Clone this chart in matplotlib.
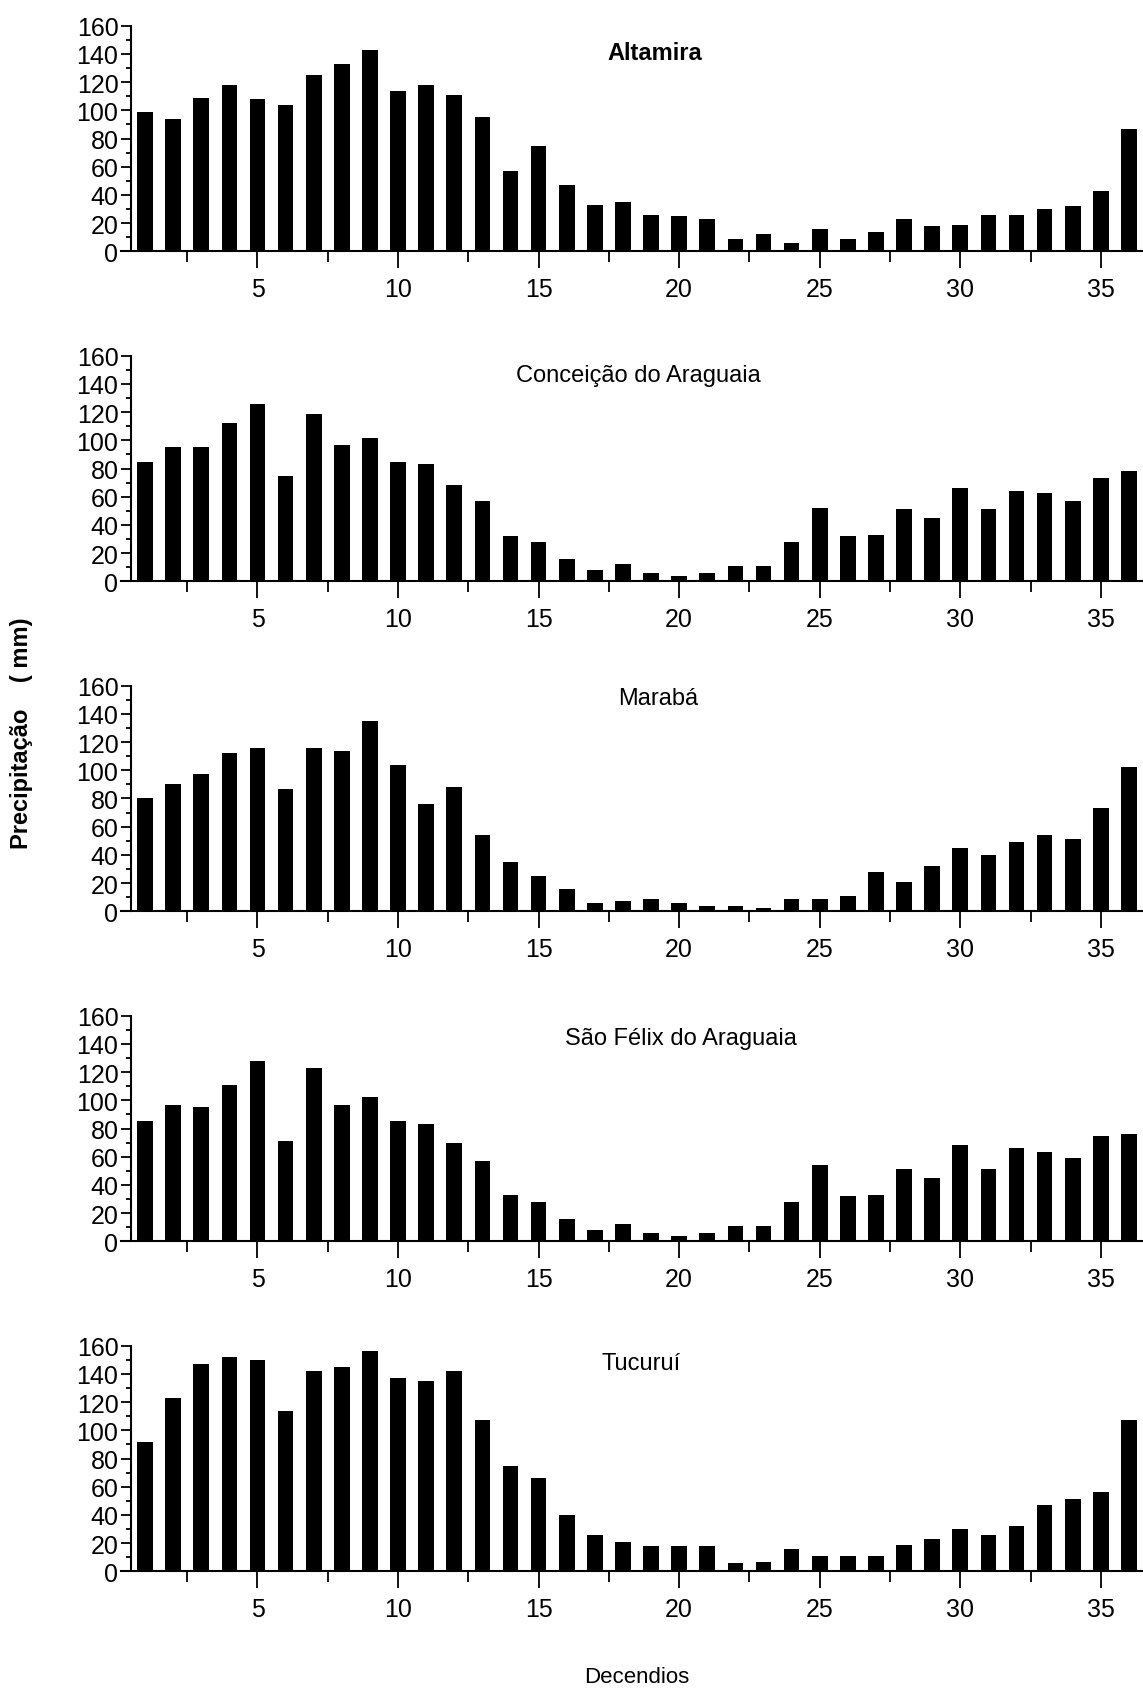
import numpy as np
import matplotlib
matplotlib.use('Agg')
import matplotlib.pyplot as plt
from matplotlib.ticker import MultipleLocator

plt.rcParams['font.family'] = ['Liberation Sans Narrow', 'Liberation Sans', 'DejaVu Sans']

# Decendios 1..36
decendios = np.arange(1, 37)

stations = ['Altamira', 'Conceição do Araguaia', 'Marabá', 'São Félix do Araguaia', 'Tucuruí']

altamira = [99, 94, 109, 118, 108, 104, 125, 133, 143, 114, 118, 111, 95, 57, 75, 47, 33, 35,
            26, 25, 23, 9, 12, 6, 16, 9, 14, 23, 18, 19, 26, 26, 30, 32, 43, 87]
conceicao = [85, 95, 95, 112, 126, 75, 119, 97, 102, 85, 83, 68, 57, 32, 28, 16, 8, 12,
             6, 4, 6, 11, 11, 28, 52, 32, 33, 51, 45, 66, 51, 64, 63, 57, 73, 78]
maraba = [80, 90, 97, 112, 116, 87, 116, 114, 135, 104, 76, 88, 54, 35, 25, 16, 6, 7,
          9, 6, 4, 4, 2, 9, 9, 11, 28, 21, 32, 45, 40, 49, 54, 51, 73, 102]
sao_felix = [85, 97, 95, 111, 128, 71, 123, 97, 102, 85, 83, 70, 57, 33, 28, 16, 8, 12,
             6, 4, 6, 11, 11, 28, 54, 32, 33, 51, 45, 68, 51, 66, 63, 59, 75, 76]
tucurui = [92, 123, 147, 152, 150, 114, 142, 145, 156, 137, 135, 142, 107, 75, 66, 40, 26, 21,
           18, 18, 18, 6, 7, 16, 11, 11, 11, 19, 23, 30, 26, 32, 47, 51, 56, 107]

series = [altamira, conceicao, maraba, sao_felix, tucurui]

fig = plt.figure(figsize=(11.43, 16.9), dpi=100)

bottoms = [0.8507, 0.6554, 0.4602, 0.2649, 0.0696]
title_pos = [(0.518, 0.852), (0.501, 0.889), (0.521, 0.919), (0.543, 0.875), (0.504, 0.897)]

for i, (name, vals) in enumerate(zip(stations, series)):
    ax = fig.add_axes([0.1146, bottoms[i], 0.8854, 0.1335])
    ax.bar(decendios, vals, width=0.56, color='black')
    ax.set_xlim(0.5, 36.5)
    ax.set_ylim(0, 160)
    ax.spines['top'].set_visible(False)
    ax.spines['right'].set_visible(False)
    ax.spines['left'].set_linewidth(1.5)
    ax.spines['bottom'].set_linewidth(1.5)
    ax.spines['bottom'].set_bounds(0.14, 36.5)
    ax.xaxis.set_major_locator(MultipleLocator(5))
    ax.xaxis.set_minor_locator(MultipleLocator(2.5))
    ax.yaxis.set_major_locator(MultipleLocator(20))
    ax.yaxis.set_minor_locator(MultipleLocator(10))
    ax.tick_params(axis='x', which='major', length=12.5, width=1.3, pad=6, labelsize=18)
    ax.tick_params(axis='x', which='minor', length=8, width=1.3)
    ax.tick_params(axis='y', which='major', length=7, width=1.3, pad=2, labelsize=18)
    ax.tick_params(axis='y', which='minor', length=3.6, width=1.3)
    ax.text(title_pos[i][0], title_pos[i][1], name, transform=ax.transAxes,
            ha='center', va='baseline', fontsize=17,
            fontweight='bold' if i == 0 else 'normal')

fig.text(0.019, 0.566, 'Precipitação    ( mm)', rotation=90, ha='center', va='center',
         fontsize=17, fontweight='bold', family=['Liberation Sans', 'DejaVu Sans'])
fig.text(0.557, 0.004, 'Decendios', ha='center', va='baseline', fontsize=16)

fig.savefig('out.png', dpi=100)
